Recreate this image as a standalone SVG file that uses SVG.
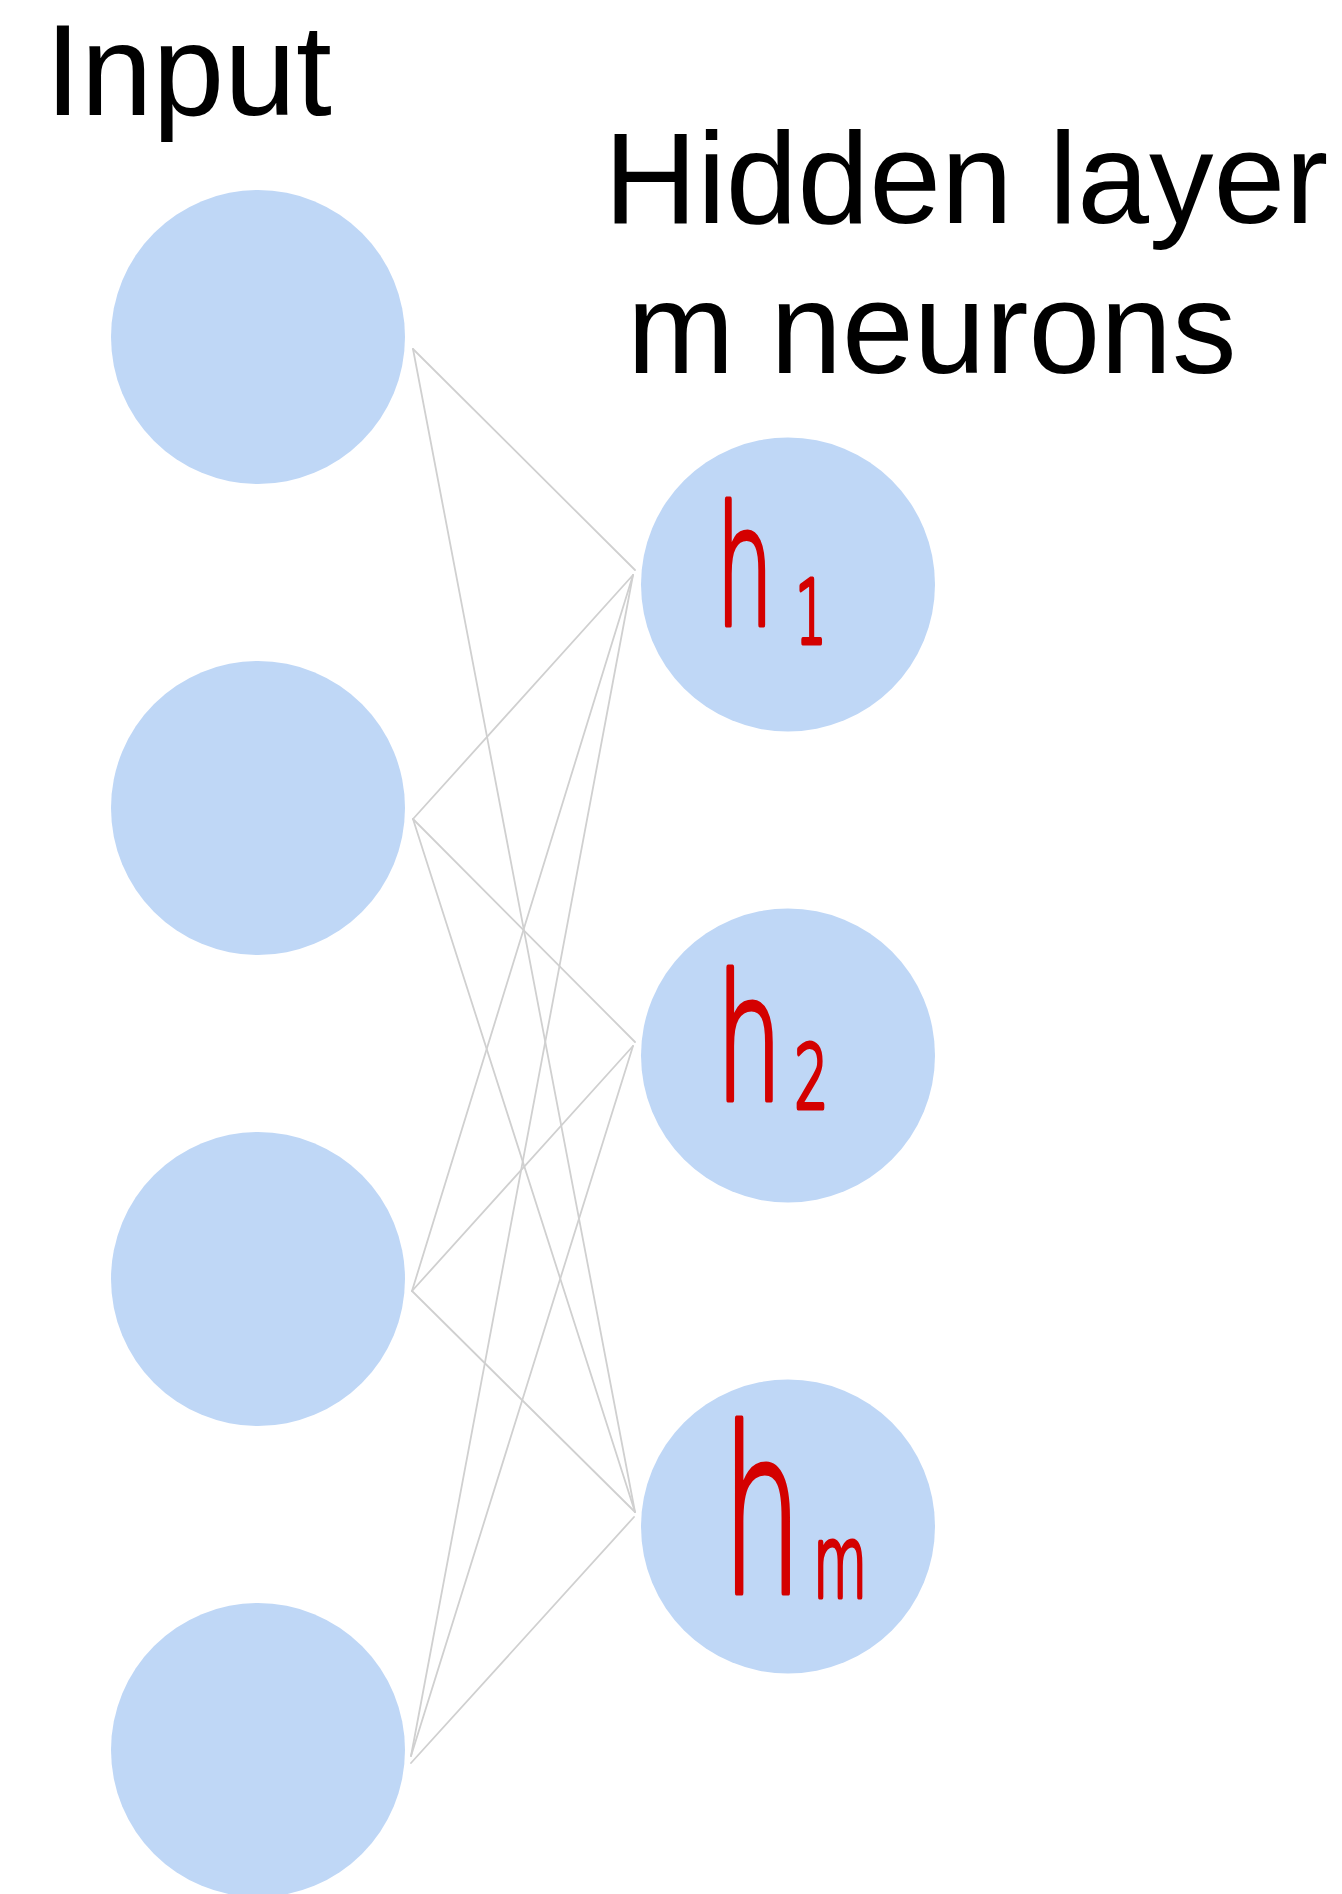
<svg xmlns="http://www.w3.org/2000/svg" width="1342" height="1894" viewBox="0 0 1342 1894">
<style>
.title{font-family:"Liberation Sans",Arial,sans-serif;font-size:129px;fill:#000}
.node{fill:#BFD7F6}
.edge{stroke:#D0D0D0;stroke-width:1.8;fill:none;stroke-linecap:round}
.lbl{font-family:"DejaVu Sans",sans-serif;font-weight:200;fill:#D40000;stroke:#D40000;stroke-width:5;stroke-linejoin:round}
</style>
<rect width="1342" height="1894" fill="#fff"/>
<text class="title" x="45" y="115" font-size="126">Input</text>
<text class="title" x="604" y="223">Hidden layer</text>
<text class="title" x="627" y="373">m neurons</text>
<g id="connectors">
<line class="edge" x1="413" y1="349" x2="635" y2="570"/>
<line class="edge" x1="413" y1="349" x2="635" y2="1512"/>
<line class="edge" x1="413" y1="819" x2="633" y2="575"/>
<line class="edge" x1="413" y1="819" x2="635" y2="1042"/>
<line class="edge" x1="413" y1="819" x2="635" y2="1512"/>
<line class="edge" x1="412" y1="1291" x2="633" y2="575"/>
<line class="edge" x1="412" y1="1291" x2="633" y2="1046"/>
<line class="edge" x1="412" y1="1291" x2="635" y2="1512"/>
<line class="edge" x1="411" y1="1756" x2="633" y2="575"/>
<line class="edge" x1="411" y1="1756" x2="633" y2="1046"/>
<line class="edge" x1="411" y1="1763" x2="634" y2="1517"/>
</g>
<g id="in1"><circle class="node" cx="258" cy="337" r="147"/></g>
<g id="in2"><circle class="node" cx="258" cy="808" r="147"/></g>
<g id="in3"><circle class="node" cx="258" cy="1279" r="147"/></g>
<g id="in4"><circle class="node" cx="258" cy="1750" r="147"/></g>
<g id="h1"><circle class="node" cx="788" cy="584.5" r="147"/>
<text class="lbl" transform="translate(716,625) scale(0.55,1)"><tspan font-size="165">h</tspan><tspan font-size="88" dx="40" dy="18">1</tspan></text></g>
<g id="h2"><circle class="node" cx="788" cy="1055.5" r="147"/>
<text class="lbl" transform="translate(716,1100) scale(0.6,1)"><tspan font-size="175">h</tspan><tspan font-size="88" dx="20" dy="8">2</tspan></text></g>
<g id="hm"><circle class="node" cx="788" cy="1526.5" r="147"/>
<text class="lbl" transform="translate(722,1593) scale(0.55,1)"><tspan font-size="230">h</tspan><tspan font-size="100" dx="20" dy="4">m</tspan></text></g>
</svg>
